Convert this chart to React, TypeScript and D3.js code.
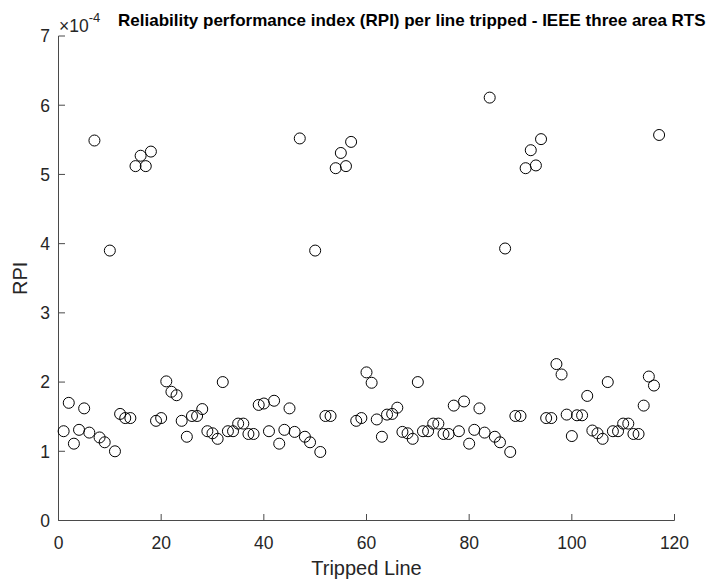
import React from "react";
import * as d3 from "d3";

// RPI values (units of 1e-4) per tripped line, line numbers 1..117 in order
const rpiValues: number[] = [
  1.29, 1.70, 1.11, 1.31, 1.62, 1.27, 5.49, 1.20, 1.13, 3.90,
  1.00, 1.54, 1.48, 1.48, 5.12, 5.27, 5.12, 5.33, 1.44, 1.48,
  2.01, 1.86, 1.81, 1.44, 1.21, 1.51, 1.51, 1.61, 1.29, 1.26,
  1.18, 2.00, 1.29, 1.29, 1.40, 1.40, 1.25, 1.25, 1.67, 1.69,
  1.29, 1.73, 1.11, 1.31, 1.62, 1.28, 5.52, 1.21, 1.13, 3.90,
  0.99, 1.51, 1.51, 5.09, 5.31, 5.12, 5.47, 1.44, 1.48, 2.14,
  1.99, 1.46, 1.21, 1.53, 1.54, 1.63, 1.28, 1.26, 1.18, 2.00,
  1.29, 1.29, 1.40, 1.40, 1.25, 1.25, 1.66, 1.29, 1.72, 1.11,
  1.31, 1.62, 1.27, 6.11, 1.21, 1.13, 3.93, 0.99, 1.51, 1.51,
  5.09, 5.35, 5.13, 5.51, 1.48, 1.48, 2.26, 2.11, 1.53, 1.22,
  1.52, 1.52, 1.80, 1.30, 1.26, 1.18, 2.00, 1.29, 1.29, 1.40,
  1.40, 1.25, 1.25, 1.66, 2.08, 1.95, 5.57,
];

const xTicks: number[] = [0, 20, 40, 60, 80, 100, 120];
const yTicks: number[] = [0, 1, 2, 3, 4, 5, 6, 7];
const xDomain: [number, number] = [0, 120];
const yDomain: [number, number] = [0, 7];
const exponentLabel = "-4";
const titleText =
  "Reliability performance index (RPI) per line tripped - IEEE three area RTS";
const xLabel = "Tripped Line";
const yLabel = "RPI";

const W = 709;
const H = 580;
const left = 58.5;
const right = 674.5;
const top = 36;
const bottom = 520.5;
const tickLen = 6.5;
const font = "'Liberation Sans', Arial, Helvetica, sans-serif";
const textColor = "#262626";
const axisColor = "#4a4a4a";

export default function App() {
  const x = d3.scaleLinear().domain(xDomain).range([left, right]);
  const y = d3.scaleLinear().domain(yDomain).range([bottom, top]);
  const points = rpiValues.map((v, i) => ({ line: i + 1, v }));

  return (
    <svg
      width={W}
      height={H}
      style={{ position: "absolute", left: 0, top: 0, background: "#fff" }}
      fontFamily={font}
    >
      <rect x={0} y={0} width={W} height={H} fill="#fff" />
      {/* axes */}
      <line x1={left} y1={bottom} x2={right} y2={bottom} stroke={axisColor} strokeWidth={1} />
      <line x1={left} y1={bottom} x2={left} y2={top} stroke={axisColor} strokeWidth={1} />
      {xTicks.map((t) => (
        <g key={"xt" + t}>
          <line x1={x(t)} x2={x(t)} y1={bottom} y2={bottom - tickLen} stroke={axisColor} strokeWidth={1} />
          <text x={x(t)} y={548.5} textAnchor="middle" fontSize={17.5} fill={textColor}>
            {t}
          </text>
        </g>
      ))}
      {yTicks.map((t) => (
        <g key={"yt" + t}>
          <line x1={left} x2={left + tickLen} y1={y(t)} y2={y(t)} stroke={axisColor} strokeWidth={1} />
          <text x={50} y={y(t) + 6.3} textAnchor="end" fontSize={17.5} fill={textColor}>
            {t}
          </text>
        </g>
      ))}
      {/* exponent */}
      <text x={59} y={31.7} fontSize={17.5} fill={textColor}>
        {"\u00D710"}
        <tspan dy={-10} fontSize={13}>
          {exponentLabel}
        </tspan>
      </text>
      {/* title */}
      <text x={118} y={26} fontSize={17} fontWeight="bold" fill="#000">
        {titleText}
      </text>
      {/* labels */}
      <text x={(left + right) / 2} y={575} textAnchor="middle" fontSize={20} fill={textColor}>
        {xLabel}
      </text>
      <text
        transform={`translate(27.3, ${(top + bottom) / 2}) rotate(-90)`}
        textAnchor="middle"
        fontSize={20}
        fill={textColor}
      >
        {yLabel}
      </text>
      {/* points */}
      {points.map((p) => (
        <circle
          key={p.line}
          cx={x(p.line)}
          cy={y(p.v)}
          r={5.5}
          fill="none"
          stroke="#000"
          strokeWidth={1}
        />
      ))}
    </svg>
  );
}
